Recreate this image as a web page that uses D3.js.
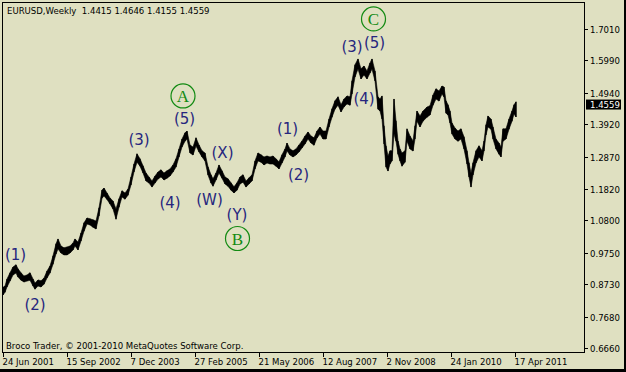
<!DOCTYPE html>
<html>
<head>
<meta charset="utf-8">
<script src="https://cdn.jsdelivr.net/npm/d3@7"></script>
<style>
  body { margin: 0; background: #000; }
  svg { display: block; }
</style>
</head>
<body>
<script>
/*
 * Chart data (weekly EURUSD, week index counted from 24 Jun 2001)
 *
 */
const weeks = [0, 2, 4, 7, 10, 13, 15, 18, 21, 24, 27, 30, 32, 35, 38, 41, 44, 47, 50, 53,
  55, 58, 61, 64, 67, 70, 72, 75, 78, 81, 84, 87, 90, 93, 96, 99, 101, 104, 107, 110,
  113, 116, 119, 122, 125, 128, 131, 134, 137, 140, 143, 146, 149, 152, 155, 158, 161, 164, 167, 170,
  173, 176, 179, 182, 184, 187, 190, 193, 196, 199, 202, 205, 208, 210, 213, 216, 219, 222, 225, 228,
  231, 234, 237, 240, 243, 246, 249, 252, 255, 258, 261, 264, 267, 270, 273, 276, 279, 282, 284, 287,
  290, 293, 296, 299, 302, 305, 308, 311, 314, 317, 320, 323, 326, 329, 332, 335, 338, 341, 344, 347,
  349, 352, 355, 358, 361, 364, 367, 369, 372, 375, 377, 379, 381, 383, 385, 387, 389, 391, 393, 395,
  397, 399, 402, 404, 407, 410, 412, 414, 417, 420, 424, 427, 430, 433, 436, 439, 441, 443, 445, 447,
  449, 452, 455, 458, 461, 464, 466, 468, 470, 473, 476, 479, 481, 483, 485, 488, 490, 493, 496, 498,
  500, 503, 506, 509, 511, 513];

const highs = [0.863, 0.867, 0.890, 0.910, 0.929, 0.936, 0.923, 0.910, 0.900, 0.903, 0.910, 0.890, 0.877, 0.887, 0.884, 0.893, 0.916, 0.932, 0.965, 1.004,
  1.020, 0.997, 0.991, 0.994, 0.997, 1.007, 1.020, 1.010, 1.039, 1.072, 1.088, 1.085, 1.082, 1.078, 1.121, 1.179, 1.185, 1.169, 1.153, 1.143,
  1.117, 1.150, 1.176, 1.169, 1.182, 1.221, 1.263, 1.296, 1.280, 1.257, 1.234, 1.221, 1.208, 1.224, 1.237, 1.244, 1.234, 1.241, 1.247, 1.260,
  1.280, 1.312, 1.344, 1.364, 1.370, 1.325, 1.318, 1.348, 1.325, 1.306, 1.299, 1.254, 1.228, 1.215, 1.234, 1.260, 1.241, 1.221, 1.215, 1.202,
  1.189, 1.202, 1.221, 1.228, 1.208, 1.218, 1.228, 1.273, 1.299, 1.293, 1.286, 1.289, 1.286, 1.289, 1.280, 1.270, 1.293, 1.312, 1.331, 1.312,
  1.306, 1.312, 1.325, 1.338, 1.354, 1.367, 1.354, 1.348, 1.370, 1.383, 1.370, 1.370, 1.409, 1.442, 1.468, 1.481, 1.455, 1.474, 1.484, 1.481,
  1.533, 1.585, 1.604, 1.572, 1.581, 1.565, 1.591, 1.604, 1.565, 1.481, 1.474, 1.484, 1.387, 1.322, 1.289, 1.306, 1.306, 1.474, 1.403, 1.338,
  1.312, 1.299, 1.306, 1.377, 1.354, 1.338, 1.387, 1.435, 1.419, 1.435, 1.448, 1.452, 1.487, 1.507, 1.500, 1.516, 1.513, 1.468, 1.455, 1.435,
  1.396, 1.380, 1.370, 1.377, 1.351, 1.306, 1.267, 1.234, 1.267, 1.306, 1.322, 1.306, 1.338, 1.390, 1.419, 1.409, 1.383, 1.344, 1.331, 1.318,
  1.377, 1.377, 1.409, 1.435, 1.455, 1.4646];

const lows = [0.838, 0.847, 0.864, 0.883, 0.903, 0.909, 0.896, 0.886, 0.880, 0.883, 0.886, 0.867, 0.857, 0.867, 0.864, 0.873, 0.893, 0.909, 0.938, 0.971,
  0.987, 0.974, 0.968, 0.968, 0.974, 0.984, 0.997, 0.984, 1.013, 1.045, 1.068, 1.065, 1.058, 1.052, 1.094, 1.152, 1.159, 1.148, 1.133, 1.117,
  1.084, 1.123, 1.156, 1.149, 1.162, 1.195, 1.237, 1.269, 1.256, 1.234, 1.208, 1.201, 1.188, 1.201, 1.214, 1.221, 1.211, 1.217, 1.224, 1.237,
  1.253, 1.286, 1.318, 1.337, 1.344, 1.299, 1.292, 1.321, 1.302, 1.286, 1.273, 1.227, 1.201, 1.191, 1.211, 1.234, 1.217, 1.198, 1.191, 1.178,
  1.169, 1.178, 1.198, 1.204, 1.188, 1.198, 1.208, 1.247, 1.273, 1.269, 1.260, 1.266, 1.263, 1.263, 1.256, 1.247, 1.266, 1.286, 1.305, 1.292,
  1.286, 1.292, 1.302, 1.315, 1.328, 1.344, 1.331, 1.324, 1.347, 1.360, 1.344, 1.344, 1.383, 1.415, 1.441, 1.454, 1.432, 1.448, 1.458, 1.454,
  1.490, 1.545, 1.571, 1.539, 1.552, 1.539, 1.558, 1.571, 1.532, 1.441, 1.435, 1.409, 1.328, 1.253, 1.240, 1.263, 1.273, 1.360, 1.337, 1.295,
  1.273, 1.256, 1.269, 1.337, 1.312, 1.305, 1.344, 1.402, 1.383, 1.402, 1.415, 1.422, 1.454, 1.474, 1.467, 1.490, 1.480, 1.428, 1.422, 1.396,
  1.360, 1.344, 1.337, 1.344, 1.312, 1.263, 1.221, 1.188, 1.227, 1.266, 1.286, 1.273, 1.305, 1.357, 1.383, 1.376, 1.344, 1.312, 1.295, 1.286,
  1.337, 1.344, 1.376, 1.402, 1.425, 1.4155];

const priceTicks = [0.6660, 0.7680, 0.8730, 0.9750, 1.0800, 1.1820, 1.2870, 1.3920, 1.4940, 1.5990, 1.7010];
const dateTickWeeks = [0, 64, 128, 192, 256, 320, 384, 448, 512];
const dateTickLabels = ['24 Jun 2001', '15 Sep 2002', '7 Dec 2003', '27 Feb 2005', '21 May 2006',
  '12 Aug 2007', '2 Nov 2008', '24 Jan 2010', '17 Apr 2011'];

// elliott wave marks
const waveLabels = ['(1)', '(2)', '(3)', '(4)', '(5)', '(W)', '(X)', '(Y)', '(1)', '(2)', '(3)', '(4)', '(5)'];
const waveWeeks = [12.5, 32, 136, 167, 181.5, 206.5, 219.5, 234, 284.5, 295.5, 349, 361, 371.5];
const wavePrices = [0.969, 0.806, 1.341, 1.1365, 1.4075, 1.1463, 1.2972, 1.096, 1.375, 1.2274, 1.6427, 1.4724, 1.6541];

const circleLabels = ['A', 'B', 'C'];
const circleWeeks = [180, 234.5, 370.5];
const circlePrices = [1.4837, 1.0213, 1.7336];

const lastBar = { open: 1.4415, high: 1.4646, low: 1.4155, close: 1.4559 };

/*
 * Sizes and scales
 *
 */
const svgWidth = 626,
  svgHeight = 372,
  frame = { left: 2, top: 2, right: 584, bottom: 352 };

const bg = '#dfe0c1';
const font = "'DejaVu Sans Condensed', 'Liberation Sans', sans-serif";

const xScale = d3.scaleLinear()
  .domain([0, 581])
  .range([3, 584]);

const yScale = d3.scaleLinear()
  .domain([0.6660, 1.7010])
  .range([348, 29]);

const svg = d3.select('body')
  .append('svg')
  .attr('width', svgWidth)
  .attr('height', svgHeight);

svg.append('rect')
  .attr('width', svgWidth - 2)
  .attr('height', svgHeight - 3)
  .attr('fill', bg);

/*
 * Price series
 *
 */
const bars = weeks.map((w, i) => ({ w: w, hi: highs[i], lo: lows[i] }));

const plot = svg.append('g');

plot.append('path')
  .datum(bars)
  .attr('fill', '#000')
  .attr('stroke', '#000')
  .attr('stroke-width', 0.6)
  .attr('d', d3.area()
    .x(d => xScale(d.w))
    .y0(d => yScale(d.lo))
    .y1(d => yScale(d.hi)));

plot.selectAll('line.bar')
  .data(bars)
  .enter().append('line')
  .attr('class', 'bar')
  .attr('x1', d => xScale(d.w))
  .attr('x2', d => xScale(d.w))
  .attr('y1', d => yScale(d.hi))
  .attr('y2', d => yScale(d.lo))
  .attr('stroke', '#000')
  .attr('stroke-width', 1.2);

/*
 * Frame and axes
 *
 */
svg.append('rect')
  .attr('x', frame.left + 0.5)
  .attr('y', frame.top + 0.5)
  .attr('width', frame.right - frame.left)
  .attr('height', frame.bottom - frame.top)
  .attr('fill', 'none')
  .attr('stroke', '#000');

const yAxis = svg.append('g');
priceTicks.forEach(p => {
  const y = Math.round(yScale(p)) + 0.5;
  yAxis.append('line')
    .attr('x1', frame.right + 0.5).attr('x2', frame.right + 4)
    .attr('y1', y).attr('y2', y)
    .attr('stroke', '#000');
  yAxis.append('text')
    .attr('x', 590)
    .attr('y', y + 3.5)
    .attr('font-family', font)
    .attr('font-size', 9.5)
    .attr('fill', '#000')
    .text(p.toFixed(4));
});

// current price marker
const cy = yScale(lastBar.close);
svg.append('rect')
  .attr('x', 586).attr('y', cy - 5)
  .attr('width', 35).attr('height', 10)
  .attr('fill', '#000');
svg.append('text')
  .attr('x', 590).attr('y', cy + 3.5)
  .attr('font-family', font)
  .attr('font-size', 9.5)
  .attr('fill', '#fff')
  .text(lastBar.close.toFixed(4));

const xAxis = svg.append('g');
dateTickWeeks.forEach((w, i) => {
  const x = Math.round(xScale(w)) + 0.5;
  xAxis.append('line')
    .attr('x1', x).attr('x2', x)
    .attr('y1', frame.bottom + 0.5).attr('y2', frame.bottom + 5)
    .attr('stroke', '#000');
  xAxis.append('text')
    .attr('x', x - 1)
    .attr('y', 365)
    .attr('font-family', font)
    .attr('font-size', 9.5)
    .attr('fill', '#000')
    .text(dateTickLabels[i]);
});

/*
 * Texts
 *
 */
svg.append('text')
  .attr('x', 7).attr('y', 14)
  .attr('font-family', font)
  .attr('font-size', 9.5)
  .attr('fill', '#000')
  .attr('xml:space', 'preserve')
  .text('EURUSD,Weekly  ' + [lastBar.open, lastBar.high, lastBar.low, lastBar.close].map(v => v.toFixed(4)).join(' '));

svg.append('text')
  .attr('x', 6).attr('y', 349)
  .attr('font-family', font)
  .attr('font-size', 9.5)
  .attr('fill', '#000')
  .text('Broco Trader, \u00a9 2001-2010 MetaQuotes Software Corp.');

svg.selectAll('text.wave')
  .data(waveLabels)
  .enter().append('text')
  .attr('class', 'wave')
  .attr('x', (d, i) => xScale(waveWeeks[i]))
  .attr('y', (d, i) => yScale(wavePrices[i]))
  .attr('text-anchor', 'middle')
  .attr('dominant-baseline', 'central')
  .attr('font-family', "'DejaVu Sans', sans-serif")
  .attr('font-size', 15)
  .attr('fill', '#26267e')
  .text(d => d);

const circles = svg.selectAll('g.circ')
  .data(circleLabels)
  .enter().append('g')
  .attr('class', 'circ')
  .attr('transform', (d, i) => `translate(${xScale(circleWeeks[i])},${yScale(circlePrices[i])})`);

circles.append('circle')
  .attr('r', 12)
  .attr('fill', 'none')
  .attr('stroke', '#128a12')
  .attr('stroke-width', 1.2);

circles.append('text')
  .attr('text-anchor', 'middle')
  .attr('dominant-baseline', 'central')
  .attr('y', 1)
  .attr('font-family', "'Liberation Serif', serif")
  .attr('font-size', 17)
  .attr('fill', '#128a12')
  .text(d => d);
</script>
</body>
</html>
